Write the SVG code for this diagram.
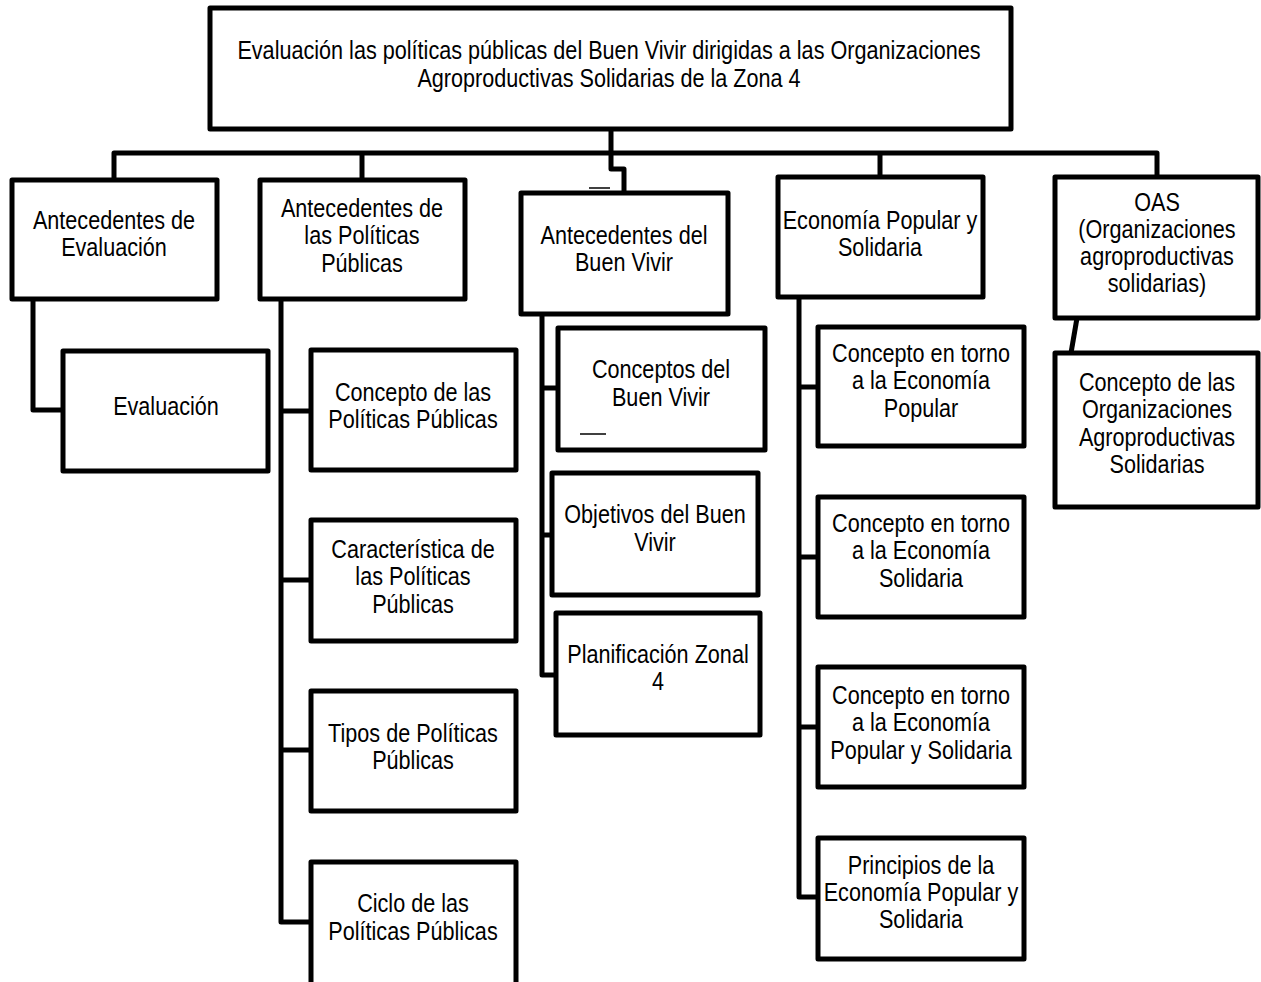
<svg xmlns="http://www.w3.org/2000/svg" width="1261" height="982" viewBox="0 0 1261 982">
<style>
.box{fill:#fff;stroke:#000;stroke-width:5;stroke-linejoin:round}
.con{fill:none;stroke:#000;stroke-width:5;stroke-linejoin:round}
.thin{fill:none;stroke:#000;stroke-width:1.5}
.t{font-family:"Liberation Sans",Arial,sans-serif;font-size:25px;text-anchor:middle;fill:#000}
</style>
<rect width="1261" height="982" fill="#fff"/>
<g id="connectors">
<path class="con" d="M114 180V153H1157V177"/>
<path class="con" d="M362 153V180"/>
<path class="con" d="M880 153V177"/>
<path class="con" d="M611 129V169H624V193"/>
<path class="con" d="M33 299V410H63"/>
<path class="con" d="M281 299V922H311M281 411H311M281 580H311M281 750H311"/>
<path class="con" d="M542 314V675H556M542 388H558M542 535H552"/>
<path class="con" d="M799 297V897H818M799 387H818M799 557H818M799 727H818"/>
<path class="con" d="M1077 318L1071 353"/>
<path class="thin" d="M589 188H610"/>
</g>
<g id="root">
<rect class="box" x="210" y="8" width="801" height="121"/>
<text class="t" transform="translate(609,59) scale(0.865,1)"><tspan x="0" y="0">Evaluación las políticas públicas del Buen Vivir dirigidas a las Organizaciones</tspan><tspan x="0" y="28">Agroproductivas Solidarias de la Zona 4</tspan></text>
</g>
<g id="n1">
<rect class="box" x="12" y="180" width="205" height="119"/>
<text class="t" transform="translate(114,229) scale(0.865,1)"><tspan x="0" y="0">Antecedentes de</tspan><tspan x="0" y="27.5">Evaluación</tspan></text>
</g>
<g id="n1a">
<rect class="box" x="63" y="351" width="205" height="120"/>
<text class="t" transform="translate(166,415) scale(0.865,1)"><tspan x="0" y="0">Evaluación</tspan></text>
</g>
<g id="n2">
<rect class="box" x="260" y="180" width="205" height="119"/>
<text class="t" transform="translate(362,217) scale(0.865,1)"><tspan x="0" y="0">Antecedentes de</tspan><tspan x="0" y="27.5">las Políticas</tspan><tspan x="0" y="55">Públicas</tspan></text>
</g>
<g id="n2a">
<rect class="box" x="311" y="350" width="205" height="120"/>
<text class="t" transform="translate(413,401) scale(0.865,1)"><tspan x="0" y="0">Concepto de las</tspan><tspan x="0" y="27.5">Políticas Públicas</tspan></text>
</g>
<g id="n2b">
<rect class="box" x="311" y="520" width="205" height="121"/>
<text class="t" transform="translate(413,558) scale(0.865,1)"><tspan x="0" y="0">Característica de</tspan><tspan x="0" y="27.5">las Políticas</tspan><tspan x="0" y="55">Públicas</tspan></text>
</g>
<g id="n2c">
<rect class="box" x="311" y="691" width="205" height="120"/>
<text class="t" transform="translate(413,742) scale(0.865,1)"><tspan x="0" y="0">Tipos de Políticas</tspan><tspan x="0" y="27.5">Públicas</tspan></text>
</g>
<g id="n2d">
<rect class="box" x="311" y="862" width="205" height="140"/>
<text class="t" transform="translate(413,912) scale(0.865,1)"><tspan x="0" y="0">Ciclo de las</tspan><tspan x="0" y="28">Políticas Públicas</tspan></text>
</g>
<g id="n3">
<rect class="box" x="521" y="193" width="207" height="121"/>
<text class="t" transform="translate(624,244) scale(0.865,1)"><tspan x="0" y="0">Antecedentes del</tspan><tspan x="0" y="27.5">Buen Vivir</tspan></text>
</g>
<g id="n3a">
<rect class="box" x="558" y="328" width="207" height="122"/>
<text class="t" transform="translate(661,378) scale(0.865,1)"><tspan x="0" y="0">Conceptos del</tspan><tspan x="0" y="28">Buen Vivir</tspan></text>
<path class="thin" d="M580 434H606"/>
</g>
<g id="n3b">
<rect class="box" x="552" y="473" width="206" height="122"/>
<text class="t" transform="translate(655,523) scale(0.865,1)"><tspan x="0" y="0">Objetivos del Buen</tspan><tspan x="0" y="28">Vivir</tspan></text>
</g>
<g id="n3c">
<rect class="box" x="556" y="613" width="204" height="122"/>
<text class="t" transform="translate(658,663) scale(0.865,1)"><tspan x="0" y="0">Planificación Zonal</tspan><tspan x="0" y="27.5">4</tspan></text>
</g>
<g id="n4">
<rect class="box" x="778" y="177" width="205" height="120"/>
<text class="t" transform="translate(880,229) scale(0.865,1)"><tspan x="0" y="0">Economía Popular y</tspan><tspan x="0" y="27.5">Solidaria</tspan></text>
</g>
<g id="n4a">
<rect class="box" x="818" y="327" width="206" height="119"/>
<text class="t" transform="translate(921,362) scale(0.865,1)"><tspan x="0" y="0">Concepto en torno</tspan><tspan x="0" y="27.5">a la Economía</tspan><tspan x="0" y="55">Popular</tspan></text>
</g>
<g id="n4b">
<rect class="box" x="818" y="497" width="206" height="120"/>
<text class="t" transform="translate(921,532) scale(0.865,1)"><tspan x="0" y="0">Concepto en torno</tspan><tspan x="0" y="27.5">a la Economía</tspan><tspan x="0" y="55">Solidaria</tspan></text>
</g>
<g id="n4c">
<rect class="box" x="818" y="667" width="206" height="120"/>
<text class="t" transform="translate(921,704) scale(0.865,1)"><tspan x="0" y="0">Concepto en torno</tspan><tspan x="0" y="27.5">a la Economía</tspan><tspan x="0" y="55">Popular y Solidaria</tspan></text>
</g>
<g id="n4d">
<rect class="box" x="818" y="838" width="206" height="121"/>
<text class="t" transform="translate(921,874) scale(0.865,1)"><tspan x="0" y="0">Principios de la</tspan><tspan x="0" y="27">Economía Popular y</tspan><tspan x="0" y="54">Solidaria</tspan></text>
</g>
<g id="n5">
<rect class="box" x="1055" y="177" width="203" height="141"/>
<text class="t" transform="translate(1157,211) scale(0.865,1)"><tspan x="0" y="0">OAS</tspan><tspan x="0" y="27">(Organizaciones</tspan><tspan x="0" y="54">agroproductivas</tspan><tspan x="0" y="81">solidarias)</tspan></text>
</g>
<g id="n5a">
<rect class="box" x="1055" y="353" width="203" height="154"/>
<text class="t" transform="translate(1157,391) scale(0.865,1)"><tspan x="0" y="0">Concepto de las</tspan><tspan x="0" y="27.5">Organizaciones</tspan><tspan x="0" y="55">Agroproductivas</tspan><tspan x="0" y="82">Solidarias</tspan></text>
</g>
</svg>
